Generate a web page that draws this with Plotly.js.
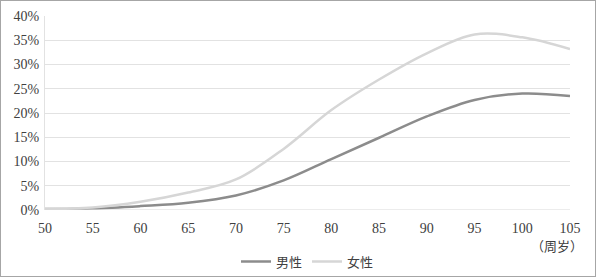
<!DOCTYPE html>
<html><head><meta charset="utf-8">
<script src="https://cdn.plot.ly/plotly-3.0.1.min.js"></script>
<style>
html,body{margin:0;padding:0;background:#fff;}
#wrap{position:relative;width:596px;height:277px;}
#chart{width:596px;height:277px;}
#frame{position:absolute;left:0;top:0;width:596px;height:277px;box-sizing:border-box;border:1px solid #a6a6a6;pointer-events:none;}
</style></head>
<body>
<div id="wrap"><div id="chart"></div><div id="frame"></div></div>
<script>
const ages = [50, 55, 60, 65, 70, 75, 80, 85, 90, 95, 100, 105];
const male = [0.2, 0.3, 0.8, 1.5, 3.0, 6.1, 10.5, 14.9, 19.3, 22.7, 24.0, 23.5];
const female = [0.2, 0.5, 1.7, 3.6, 6.3, 12.6, 20.6, 26.9, 32.3, 36.2, 35.6, 33.2];
const xTicks = [50, 55, 60, 65, 70, 75, 80, 85, 90, 95, 100, 105];
const yTicks = [0, 5, 10, 15, 20, 25, 30, 35, 40];
const yTickText = ['0%', '5%', '10%', '15%', '20%', '25%', '30%', '35%', '40%'];
const names = ['男性', '女性'];
const unitLabel = '（周岁）';

const serif = 'Liberation Serif, DejaVu Serif, Noto Serif, serif';
const cjk = 'Noto Sans CJK SC';
const traces = [
  {x: ages, y: male, name: names[0], type: 'scatter', mode: 'lines',
   line: {color: '#8c8c8c', width: 2.5, shape: 'spline', smoothing: 1}},
  {x: ages, y: female, name: names[1], type: 'scatter', mode: 'lines',
   line: {color: '#d6d6d6', width: 2.5, shape: 'spline', smoothing: 1}}
];
const layout = {
  width: 596, height: 277,
  margin: {l: 45, r: 26, t: 16, b: 67, autoexpand: false},
  paper_bgcolor: '#fff', plot_bgcolor: '#fff',
  font: {family: serif, size: 14, color: '#404040'},
  showlegend: true,
  legend: {orientation: 'h', x: 0.5, xanchor: 'center', yref: 'container', y: 0.056, yanchor: 'middle',
           font: {family: cjk, size: 13, color: '#404040'}},
  xaxis: {range: [50, 105], tickvals: xTicks, ticktext: xTicks.map(String),
          showgrid: false, zeroline: false, showline: false, ticks: '',
          ticklabelstandoff: 8, tickfont: {family: serif, size: 14, color: '#404040'}, fixedrange: true},
  yaxis: {range: [0, 40], tickvals: yTicks, ticktext: yTickText,
          showgrid: true, gridcolor: '#e2e2e2', gridwidth: 1,
          zeroline: false, showline: true, linecolor: '#e2e2e2', linewidth: 1,
          ticks: '', ticklabelstandoff: 2, tickfont: {family: serif, size: 14, color: '#404040'}, fixedrange: true},
  annotations: [{xref: 'paper', yref: 'paper', x: 512 / 525, y: -35 / 194, text: unitLabel,
                 showarrow: false, xanchor: 'center', yanchor: 'middle',
                 font: {family: cjk, size: 13, color: '#404040'}}],
  shapes: [{type: 'line', xref: 'paper', yref: 'y', x0: 0, x1: 1, y0: 0, y1: 0,
            line: {color: '#d9d9d9', width: 1}}]
};
Plotly.newPlot('chart', traces, layout, {displayModeBar: false, staticPlot: true});
</script>
</body></html>
